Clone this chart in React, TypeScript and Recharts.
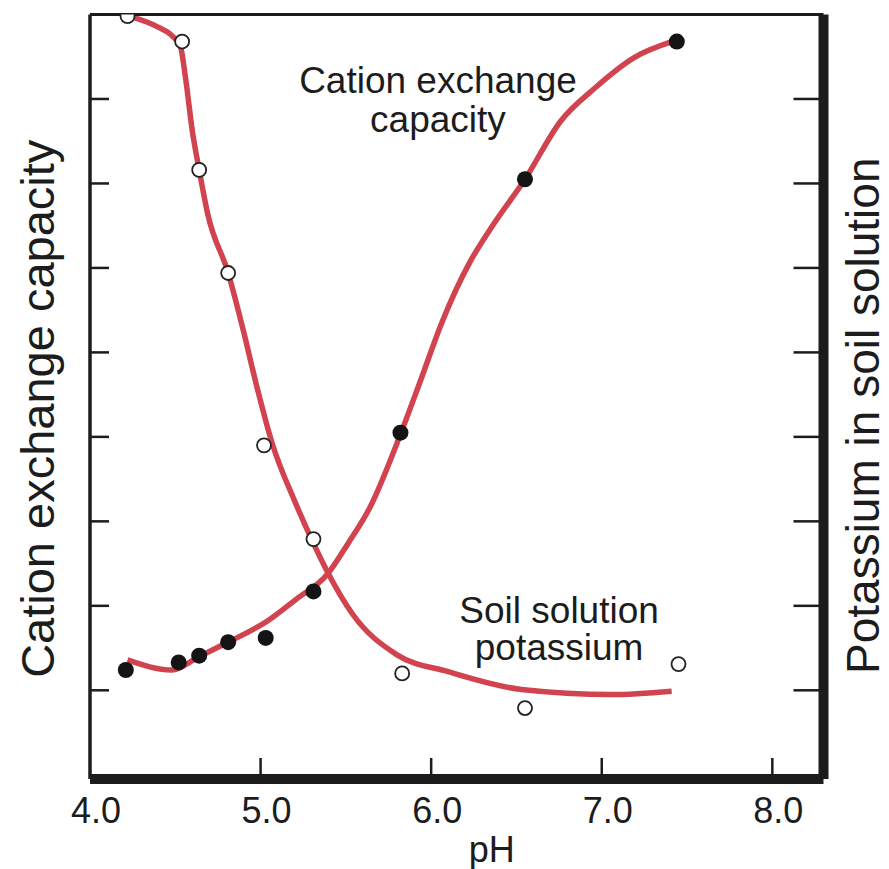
import React from "react";
import { ComposedChart, Line, Scatter, XAxis, YAxis, ReferenceDot } from "recharts";

const FONT = '"Liberation Sans", Arial, Helvetica, sans-serif';
const RED = "#d1434f";
const INK = "#1c1c1c";

const PH_TICKS = [4, 5, 6, 7, 8];
const PH_MARKS = [5, 6, 7, 8];
const LEVEL_TICKS = [1, 2, 3, 4, 5, 6, 7, 8];

// measured cation exchange capacity (filled dots)
const cecPH = [4.21, 4.52, 4.64, 4.81, 5.03, 5.31, 5.82, 6.55, 7.44];
const cecVal = [1.24, 1.33, 1.41, 1.57, 1.62, 2.17, 4.05, 7.05, 8.68];

// measured soil solution potassium (open dots)
const kPH = [4.22, 4.54, 4.64, 4.81, 5.02, 5.31, 5.83, 6.55, 7.45];
const kVal = [8.98, 8.68, 7.16, 5.94, 3.9, 2.79, 1.2, 0.79, 1.31];

// fitted curves
const cecCurvePH = [4.22, 4.48, 4.64, 4.82, 5.04, 5.21, 5.39, 5.51, 5.64, 5.82, 5.94, 6.06, 6.23, 6.35, 6.55, 6.76, 6.96, 7.19, 7.43];
const cecCurveVal = [1.36, 1.24, 1.4, 1.58, 1.82, 2.08, 2.37, 2.73, 3.16, 4.03, 4.68, 5.34, 6.08, 6.47, 7.05, 7.74, 8.13, 8.49, 8.69];

const kCurvePH = [4.23, 4.39, 4.48, 4.53, 4.56, 4.6, 4.64, 4.69, 4.81, 4.9, 4.97, 5.07, 5.2, 5.31, 5.39, 5.54, 5.8, 6.1, 6.53, 7.06, 7.41];
const kCurveVal = [8.98, 8.86, 8.75, 8.62, 8.25, 7.62, 7.16, 6.64, 5.94, 5.25, 4.66, 3.91, 3.24, 2.74, 2.41, 1.9, 1.42, 1.22, 1.01, 0.95, 0.99];

const zip = (xs: number[], ys: number[]) => xs.map((ph, i) => ({ ph, v: ys[i] }));

const cecPoints = zip(cecPH, cecVal);
const kPoints = zip(kPH, kVal);
const cecCurve = zip(cecCurvePH, cecCurveVal);
const kCurve = zip(kCurvePH, kCurveVal);

const PH_DOMAIN = [4, 8.3];
const LEVEL_DOMAIN = [-0.05, 9];

const textStyle = { fontFamily: FONT, fill: INK };

const NoLabel = () => <g />;

function PhTick({ x, y, payload }: any) {
  return (
    <text x={x + 6} y={y + 44} textAnchor="middle" fontSize={36} style={textStyle}>
      {payload.value.toFixed(1)}
    </text>
  );
}

function twoLines(lines: string[], size: number, gap: number) {
  return ({ viewBox }: any) => {
    const cx = viewBox.x + viewBox.width / 2;
    const cy = viewBox.y + viewBox.height / 2;
    return (
      <text x={cx} y={cy} textAnchor="middle" fontSize={size} style={textStyle}>
        {lines.map((l, i) => (
          <tspan key={l} x={cx} dy={i === 0 ? 0 : gap}>
            {l}
          </tspan>
        ))}
      </text>
    );
  };
}

function sideTitle(text: string, dx: number, dy: number, size: number) {
  return ({ viewBox }: any) => {
    const x = viewBox.x + dx;
    const y = viewBox.y + viewBox.height / 2 + dy;
    return (
      <text
        x={x}
        y={y}
        transform={`rotate(-90 ${x} ${y})`}
        textAnchor="middle"
        dominantBaseline="central"
        fontSize={size}
        style={textStyle}
      >
        {text}
      </text>
    );
  };
}

function PhLabel({ viewBox }: any) {
  return (
    <text x={viewBox.x + viewBox.width / 2 + 35} y={viewBox.y + 83} textAnchor="middle" fontSize={36} style={textStyle}>
      pH
    </text>
  );
}

const FilledDot = (p: any) => <circle cx={p.cx} cy={p.cy} r={8} fill="#141414" />;
const OpenDot = (p: any) => <circle cx={p.cx} cy={p.cy} r={7} fill="#fff" stroke="#222" strokeWidth={1.8} />;

export default function App() {
  return (
    <div style={{ position: "absolute", left: 0, top: 0, width: 889, height: 869, background: "#fff" }}>
      <ComposedChart width={889} height={869} margin={{ top: 13.5, right: 65.5, bottom: 89, left: 90 }}>
        {/* bottom axis: thick line + labels */}
        <XAxis
          xAxisId="b"
          dataKey="ph"
          type="number"
          domain={PH_DOMAIN}
          ticks={PH_TICKS}
          allowDataOverflow
          height={1}
          tickLine={false}
          tickSize={0}
          tickMargin={0}
          axisLine={{ stroke: INK, strokeWidth: 10 }}
          tick={<PhTick />}
          label={{ content: PhLabel }}
        />
        {/* inward tick marks on the bottom axis */}
        <XAxis
          xAxisId="bt"
          dataKey="ph"
          type="number"
          domain={PH_DOMAIN}
          ticks={PH_MARKS}
          allowDataOverflow
          height={1}
          mirror
          tickSize={21}
          tick={<NoLabel />}
          axisLine={false}
          tickLine={{ stroke: INK, strokeWidth: 2.5 }}
        />
        {/* top frame */}
        <XAxis
          xAxisId="t"
          orientation="top"
          type="number"
          domain={PH_DOMAIN}
          allowDataOverflow
          height={1}
          tick={false}
          tickLine={false}
          axisLine={{ stroke: INK, strokeWidth: 3 }}
        />
        <YAxis
          yAxisId="l"
          dataKey="v"
          type="number"
          domain={LEVEL_DOMAIN}
          ticks={LEVEL_TICKS}
          allowDataOverflow
          width={1}
          mirror
          tickSize={19}
          tick={<NoLabel />}
          tickLine={{ stroke: INK, strokeWidth: 2.5 }}
          axisLine={{ stroke: INK, strokeWidth: 3.5 }}
          label={{ content: sideTitle("Cation exchange capacity", -53, 12, 47) }}
        />
        <YAxis
          yAxisId="r"
          orientation="right"
          type="number"
          domain={LEVEL_DOMAIN}
          ticks={LEVEL_TICKS}
          allowDataOverflow
          width={1}
          mirror
          tickSize={30}
          tick={<NoLabel />}
          tickLine={{ stroke: INK, strokeWidth: 2.5 }}
          axisLine={{ stroke: INK, strokeWidth: 10 }}
          label={{ content: sideTitle("Potassium in soil solution", 40, 19, 46) }}
        />

        <Line
          xAxisId="b"
          yAxisId="l"
          data={cecCurve}
          dataKey="v"
          type="monotone"
          stroke={RED}
          strokeWidth={5.5}
          dot={false}
          activeDot={false}
          isAnimationActive={false}
        />
        <Line
          xAxisId="b"
          yAxisId="l"
          data={kCurve}
          dataKey="v"
          type="monotone"
          stroke={RED}
          strokeWidth={5.5}
          dot={false}
          activeDot={false}
          isAnimationActive={false}
        />
        <Scatter xAxisId="b" yAxisId="l" data={cecPoints} dataKey="v" shape={FilledDot} isAnimationActive={false} />
        <Scatter xAxisId="b" yAxisId="l" data={kPoints} dataKey="v" shape={OpenDot} isAnimationActive={false} />

        <ReferenceDot
          xAxisId="b"
          yAxisId="l"
          x={6.04}
          y={8.07}
          r={0}
          fill="none"
          stroke="none"
          label={{ content: twoLines(["Cation exchange", "capacity"], 37, 39) }}
        />
        <ReferenceDot
          xAxisId="b"
          yAxisId="l"
          x={6.75}
          y={1.8}
          r={0}
          fill="none"
          stroke="none"
          label={{ content: twoLines(["Soil solution", "potassium"], 37, 37) }}
        />
      </ComposedChart>
    </div>
  );
}
